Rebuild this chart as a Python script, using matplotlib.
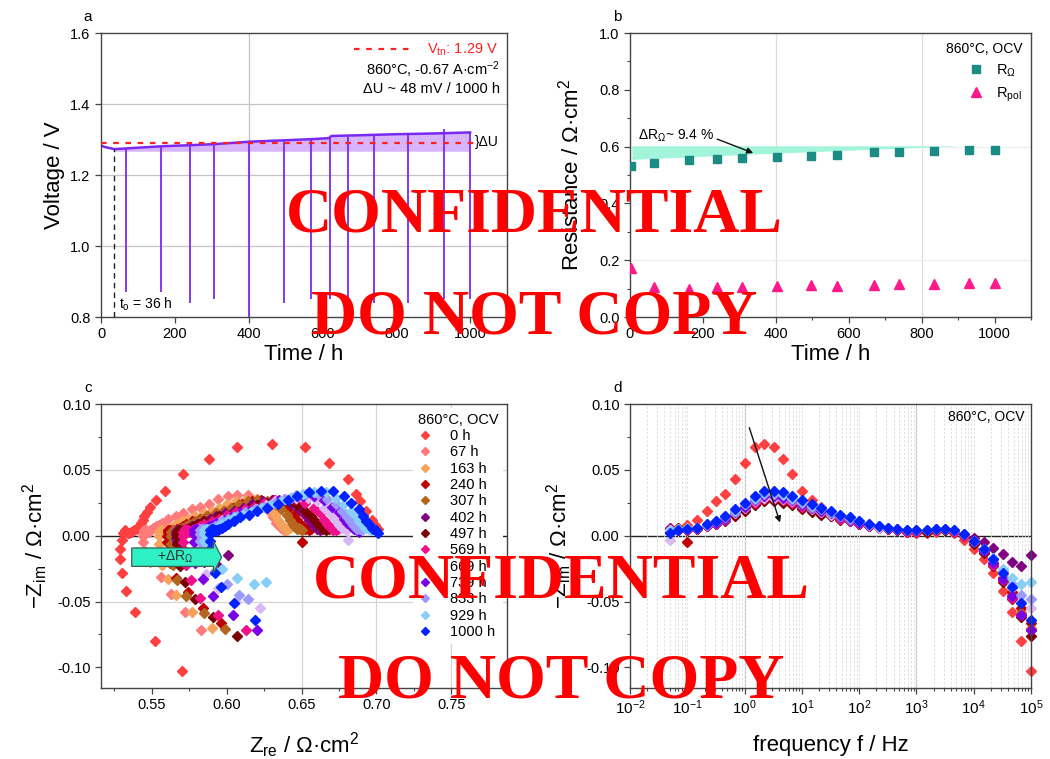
import matplotlib
matplotlib.use('Agg')
import matplotlib.pyplot as plt
from matplotlib.patches import FancyArrow
from matplotlib.ticker import MultipleLocator, LogLocator, NullFormatter

plt.rcParams['font.family'] = ['Liberation Sans', 'DejaVu Sans']
plt.rcParams['mathtext.fontset'] = 'custom'
plt.rcParams['mathtext.rm'] = 'Liberation Sans'
plt.rcParams['mathtext.it'] = 'Liberation Sans:italic'
plt.rcParams['mathtext.bf'] = 'Liberation Sans:bold'
plt.rcParams['mathtext.default'] = 'regular'
plt.rcParams['axes.unicode_minus'] = False
plt.rcParams['xtick.direction'] = 'out'
plt.rcParams['ytick.direction'] = 'out'

# ---- panel a: voltage over time ----
volt_t = [0, 10, 36, 70, 100, 165, 240, 307, 404, 500, 570, 618, 624, 700, 800, 900, 1000]
volt_v = [1.283, 1.279, 1.273, 1.275, 1.277, 1.281, 1.284, 1.287, 1.294, 1.298, 1.301,
          1.304, 1.310, 1.312, 1.315, 1.317, 1.320]
spike_t = [0, 67, 163, 240, 307, 402, 497, 569, 621, 669, 739, 833, 929, 1000]
spike_min = [1.11, 0.87, 0.87, 0.84, 0.85, 0.80, 0.84, 0.85, 0.85, 0.85, 0.84, 0.84, 0.85, 0.85]
spike_top = [1.283, 1.276, 1.281, 1.284, 1.287, 1.294, 1.298, 1.301, 1.306, 1.312, 1.313,
             1.316, 1.330, 1.320]
v_tn = 1.29
t_start = 36

# ---- panel b: resistances ----
eis_t = [2, 67, 163, 240, 307, 402, 497, 569, 669, 739, 833, 929, 1000]
r_ohm = [0.532, 0.544, 0.552, 0.555, 0.559, 0.565, 0.567, 0.572, 0.580, 0.580, 0.584, 0.587, 0.587]
r_pol = [0.174, 0.106, 0.099, 0.106, 0.104, 0.111, 0.113, 0.108, 0.113, 0.116, 0.115, 0.120, 0.120]
band_t = [5, 340, 890]
band_low = [0.555, 0.574, 0.602]
band_high = 0.603

# ---- panels c, d: impedance spectra ----
freq = [0.05, 0.068, 0.1, 0.15, 0.22, 0.32, 0.46, 0.68, 1.0, 1.5, 2.2, 3.2, 4.6, 6.8, 10, 15,
        22, 32, 46, 68, 100, 150, 220, 320, 460, 680, 1000, 1500, 2200, 3200, 4600, 6800,
        10000, 15000, 22000, 32000, 46000, 68000, 100000]

zre_0 = [0.701, 0.700, 0.699, 0.697, 0.693, 0.689, 0.686, 0.681, 0.668, 0.652, 0.630, 0.607,
         0.588, 0.571, 0.559, 0.553, 0.549, 0.547, 0.545, 0.544, 0.543, 0.542, 0.541, 0.540,
         0.538, 0.536, 0.535, 0.534, 0.533, 0.532, 0.531, 0.530, 0.529, 0.529, 0.530, 0.533,
         0.539, 0.552, 0.570]
mzim_0 = [0.005, 0.006, 0.008, 0.012, 0.019, 0.026, 0.032, 0.043, 0.055, 0.067, 0.070, 0.067,
          0.058, 0.047, 0.034, 0.027, 0.022, 0.018, 0.015, 0.012, 0.010, 0.008, 0.006, 0.005,
          0.004, 0.003, 0.002, 0.002, 0.003, 0.004, 0.002, -0.003, -0.010, -0.018, -0.028,
          -0.042, -0.058, -0.080, -0.103]

zre_67 = [0.640, 0.639, 0.638, 0.636, 0.635, 0.633, 0.631, 0.629, 0.625, 0.620, 0.614, 0.607,
          0.601, 0.594, 0.588, 0.582, 0.577, 0.571, 0.566, 0.561, 0.557, 0.555, 0.553, 0.551,
          0.549, 0.548, 0.547, 0.546, 0.546, 0.545, 0.545, 0.544, 0.544, 0.545, 0.549, 0.556,
          0.563, 0.572, 0.583]
mzim_67 = [0.005, 0.004, 0.004, 0.006, 0.008, 0.010, 0.014, 0.018, 0.023, 0.028, 0.031, 0.031,
           0.030, 0.028, 0.024, 0.022, 0.020, 0.017, 0.015, 0.013, 0.010, 0.008, 0.007, 0.006,
           0.004, 0.003, 0.003, 0.003, 0.004, 0.004, 0.003, 0.000, -0.005, -0.012, -0.020,
           -0.031, -0.044, -0.058, -0.072]

zre_163 = [0.642, 0.641, 0.640, 0.639, 0.637, 0.636, 0.634, 0.632, 0.628, 0.624, 0.619, 0.612,
           0.606, 0.600, 0.595, 0.590, 0.585, 0.579, 0.575, 0.571, 0.567, 0.565, 0.563, 0.561,
           0.560, 0.559, 0.558, 0.557, 0.557, 0.556, 0.555, 0.555, 0.555, 0.556, 0.557, 0.561,
           0.566, 0.577, 0.590]
mzim_163 = [0.006, 0.005, 0.004, 0.005, 0.007, 0.009, 0.012, 0.016, 0.020, 0.024, 0.027, 0.027,
            0.026, 0.024, 0.021, 0.019, 0.017, 0.015, 0.013, 0.011, 0.009, 0.007, 0.006, 0.005,
            0.004, 0.003, 0.003, 0.003, 0.004, 0.004, 0.003, 0.000, -0.006, -0.013, -0.022,
            -0.033, -0.045, -0.058, -0.070]

zre_240 = [0.656, 0.655, 0.650, 0.652, 0.651, 0.649, 0.647, 0.645, 0.641, 0.636, 0.630, 0.623,
           0.617, 0.610, 0.604, 0.598, 0.593, 0.587, 0.582, 0.577, 0.573, 0.571, 0.569, 0.567,
           0.565, 0.564, 0.563, 0.562, 0.562, 0.561, 0.561, 0.560, 0.560, 0.561, 0.562, 0.566,
           0.574, 0.584, 0.596]
mzim_240 = [0.005, 0.004, -0.005, 0.005, 0.007, 0.009, 0.012, 0.016, 0.020, 0.024, 0.027, 0.027,
            0.026, 0.024, 0.021, 0.019, 0.017, 0.015, 0.013, 0.011, 0.009, 0.007, 0.006, 0.005,
            0.004, 0.003, 0.003, 0.003, 0.004, 0.004, 0.003, 0.000, -0.005, -0.012, -0.021,
            -0.032, -0.043, -0.055, -0.066]

zre_307 = [0.650, 0.649, 0.648, 0.647, 0.645, 0.644, 0.642, 0.640, 0.636, 0.632, 0.627, 0.620,
           0.614, 0.608, 0.603, 0.598, 0.593, 0.587, 0.583, 0.579, 0.575, 0.573, 0.571, 0.569,
           0.568, 0.567, 0.566, 0.565, 0.565, 0.564, 0.563, 0.563, 0.563, 0.563, 0.564, 0.567,
           0.573, 0.585, 0.599]
mzim_307 = [0.004, 0.005, 0.006, 0.005, 0.007, 0.009, 0.012, 0.016, 0.020, 0.024, 0.026, 0.027,
            0.026, 0.024, 0.021, 0.019, 0.017, 0.015, 0.013, 0.011, 0.009, 0.007, 0.006, 0.005,
            0.004, 0.003, 0.003, 0.003, 0.004, 0.004, 0.003, 0.000, -0.006, -0.013, -0.022,
            -0.034, -0.046, -0.059, -0.071]

zre_402 = [0.664, 0.663, 0.662, 0.660, 0.659, 0.657, 0.655, 0.652, 0.648, 0.643, 0.638, 0.631,
           0.624, 0.617, 0.611, 0.605, 0.599, 0.593, 0.589, 0.584, 0.580, 0.577, 0.575, 0.573,
           0.571, 0.570, 0.569, 0.569, 0.568, 0.567, 0.566, 0.566, 0.566, 0.567, 0.570, 0.576,
           0.585, 0.594, 0.601]
mzim_402 = [0.006, 0.005, 0.004, 0.005, 0.007, 0.009, 0.012, 0.016, 0.020, 0.024, 0.027, 0.027,
            0.026, 0.024, 0.021, 0.019, 0.017, 0.015, 0.013, 0.011, 0.009, 0.007, 0.006, 0.005,
            0.004, 0.003, 0.003, 0.003, 0.004, 0.004, 0.003, 0.001, -0.002, -0.005, -0.009,
            -0.014, -0.020, -0.023, -0.015]

zre_497 = [0.668, 0.667, 0.666, 0.664, 0.662, 0.661, 0.659, 0.656, 0.652, 0.647, 0.641, 0.634,
           0.627, 0.620, 0.614, 0.607, 0.601, 0.595, 0.590, 0.585, 0.581, 0.578, 0.576, 0.574,
           0.573, 0.572, 0.571, 0.570, 0.569, 0.568, 0.567, 0.567, 0.567, 0.567, 0.569, 0.572,
           0.579, 0.591, 0.607]
mzim_497 = [0.005, 0.006, 0.004, 0.005, 0.007, 0.009, 0.011, 0.015, 0.019, 0.023, 0.026, 0.026,
            0.025, 0.023, 0.020, 0.018, 0.016, 0.015, 0.012, 0.011, 0.009, 0.007, 0.006, 0.005,
            0.004, 0.003, 0.003, 0.003, 0.004, 0.004, 0.003, 0.000, -0.006, -0.013, -0.023,
            -0.035, -0.048, -0.062, -0.076]

zre_569 = [0.674, 0.673, 0.671, 0.670, 0.668, 0.667, 0.665, 0.662, 0.658, 0.652, 0.646, 0.639,
           0.632, 0.625, 0.618, 0.612, 0.606, 0.600, 0.595, 0.590, 0.585, 0.582, 0.580, 0.578,
           0.577, 0.576, 0.575, 0.574, 0.573, 0.572, 0.571, 0.571, 0.571, 0.572, 0.573, 0.576,
           0.582, 0.594, 0.613]
mzim_569 = [0.005, 0.004, 0.004, 0.005, 0.007, 0.009, 0.012, 0.017, 0.021, 0.025, 0.028, 0.028,
            0.027, 0.025, 0.022, 0.020, 0.018, 0.016, 0.013, 0.011, 0.009, 0.007, 0.006, 0.005,
            0.004, 0.003, 0.003, 0.004, 0.004, 0.005, 0.003, 0.000, -0.005, -0.012, -0.022,
            -0.034, -0.047, -0.060, -0.072]

zre_669 = [0.681, 0.680, 0.679, 0.677, 0.675, 0.674, 0.672, 0.669, 0.665, 0.660, 0.654, 0.646,
           0.639, 0.632, 0.626, 0.620, 0.614, 0.608, 0.603, 0.597, 0.593, 0.590, 0.588, 0.586,
           0.585, 0.584, 0.583, 0.582, 0.581, 0.580, 0.579, 0.579, 0.579, 0.580, 0.582, 0.586,
           0.594, 0.606, 0.622]
mzim_669 = [-0.003, 0.004, 0.005, 0.006, 0.008, 0.010, 0.013, 0.017, 0.021, 0.026, 0.029, 0.029,
            0.028, 0.026, 0.023, 0.020, 0.018, 0.016, 0.014, 0.012, 0.010, 0.008, 0.006, 0.006,
            0.005, 0.004, 0.004, 0.004, 0.005, 0.005, 0.004, 0.001, -0.004, -0.010, -0.019,
            -0.029, -0.040, -0.050, -0.055]

zre_739 = [0.688, 0.687, 0.685, 0.684, 0.682, 0.680, 0.678, 0.675, 0.670, 0.665, 0.658, 0.651,
           0.643, 0.635, 0.629, 0.622, 0.615, 0.609, 0.603, 0.598, 0.593, 0.590, 0.588, 0.586,
           0.584, 0.583, 0.582, 0.581, 0.580, 0.579, 0.578, 0.578, 0.578, 0.578, 0.579, 0.584,
           0.591, 0.604, 0.620]
mzim_739 = [0.003, 0.004, 0.005, 0.006, 0.008, 0.010, 0.013, 0.018, 0.022, 0.027, 0.030, 0.030,
            0.029, 0.027, 0.023, 0.021, 0.019, 0.017, 0.014, 0.012, 0.010, 0.008, 0.007, 0.006,
            0.005, 0.004, 0.004, 0.004, 0.005, 0.005, 0.004, 0.001, -0.005, -0.012, -0.021,
            -0.033, -0.046, -0.060, -0.072]

zre_833 = [0.690, 0.689, 0.687, 0.686, 0.684, 0.682, 0.680, 0.677, 0.673, 0.667, 0.661, 0.653,
           0.646, 0.638, 0.632, 0.625, 0.619, 0.612, 0.607, 0.601, 0.597, 0.594, 0.592, 0.590,
           0.588, 0.587, 0.586, 0.585, 0.584, 0.583, 0.582, 0.582, 0.582, 0.583, 0.586, 0.592,
           0.600, 0.608, 0.614]
mzim_833 = [0.004, 0.005, 0.005, 0.006, 0.008, 0.011, 0.014, 0.019, 0.024, 0.028, 0.032, 0.032,
            0.031, 0.028, 0.025, 0.022, 0.020, 0.018, 0.015, 0.013, 0.011, 0.008, 0.007, 0.006,
            0.005, 0.004, 0.004, 0.004, 0.005, 0.005, 0.004, 0.001, -0.004, -0.010, -0.018,
            -0.027, -0.037, -0.045, -0.048]

zre_929 = [0.696, 0.695, 0.693, 0.692, 0.690, 0.688, 0.686, 0.683, 0.678, 0.673, 0.666, 0.658,
           0.651, 0.643, 0.636, 0.629, 0.623, 0.616, 0.611, 0.605, 0.601, 0.597, 0.595, 0.593,
           0.591, 0.590, 0.589, 0.588, 0.587, 0.586, 0.585, 0.585, 0.585, 0.586, 0.590, 0.597,
           0.607, 0.618, 0.626]
mzim_929 = [0.004, 0.005, 0.006, 0.006, 0.009, 0.011, 0.015, 0.019, 0.024, 0.029, 0.033, 0.033,
            0.032, 0.029, 0.026, 0.023, 0.021, 0.018, 0.016, 0.014, 0.011, 0.009, 0.007, 0.006,
            0.005, 0.004, 0.004, 0.004, 0.005, 0.005, 0.004, 0.001, -0.004, -0.010, -0.017,
            -0.025, -0.032, -0.037, -0.035]

zre_1000 = [0.701, 0.700, 0.698, 0.697, 0.695, 0.693, 0.691, 0.688, 0.683, 0.678, 0.671, 0.663,
            0.655, 0.647, 0.641, 0.634, 0.627, 0.620, 0.615, 0.609, 0.605, 0.601, 0.599, 0.597,
            0.595, 0.594, 0.593, 0.592, 0.591, 0.590, 0.589, 0.589, 0.589, 0.589, 0.590, 0.592,
            0.596, 0.605, 0.619]
mzim_1000 = [0.002, 0.004, 0.005, 0.006, 0.009, 0.011, 0.015, 0.020, 0.025, 0.030, 0.034, 0.034,
             0.033, 0.030, 0.027, 0.024, 0.021, 0.019, 0.016, 0.014, 0.011, 0.009, 0.007, 0.006,
             0.005, 0.004, 0.004, 0.004, 0.005, 0.005, 0.004, 0.001, -0.004, -0.010, -0.018,
             -0.028, -0.039, -0.051, -0.064]

spec_labels = ['0 h', '67 h', '163 h', '240 h', '307 h', '402 h', '497 h', '569 h', '669 h',
               '739 h', '833 h', '929 h', '1000 h']
spec_zre = [zre_0, zre_67, zre_163, zre_240, zre_307, zre_402, zre_497, zre_569, zre_669,
            zre_739, zre_833, zre_929, zre_1000]
spec_mzim = [mzim_0, mzim_67, mzim_163, mzim_240, mzim_307, mzim_402, mzim_497, mzim_569,
             mzim_669, mzim_739, mzim_833, mzim_929, mzim_1000]
spec_colors = ['#ff4040', '#ff7b7b', '#f5a25d', '#c00000', '#b5651d', '#800080', '#7b0000',
               '#f0108a', '#d9b8f5', '#7a00e6', '#9b9bff', '#87cefa', '#0022ff']


def style_axes(ax):
    for s in ax.spines.values():
        s.set_color('#444444')
        s.set_linewidth(1.0)
    ax.tick_params(labelsize=10.5, length=4, width=0.9, color='#444444')
    ax.tick_params(which='minor', length=2.5, width=0.8, color='#444444')


fig = plt.figure(figsize=(10.5, 7.59), dpi=100)
ax_a = fig.add_axes([0.0962, 0.5823, 0.3867, 0.3742])
ax_b = fig.add_axes([0.6, 0.5823, 0.3819, 0.3742])
ax_c = fig.add_axes([0.0962, 0.0935, 0.3867, 0.3742])
ax_d = fig.add_axes([0.6, 0.0935, 0.3819, 0.3742])

# ---------------- a ----------------
ax = ax_a
style_axes(ax)
for y in [1.0, 1.2, 1.4]:
    ax.axhline(y, color='#c4c4c4', lw=0.9, zorder=0)
ax.axvline(400, color='#c4c4c4', lw=0.9, zorder=0)
ax.fill_between(volt_t[2:], 1.267, volt_v[2:], color='#d8b4fc', lw=0, zorder=1)
ax.vlines(spike_t, spike_min, spike_top, color='#7a2af0', lw=1.3, zorder=2)
ax.plot(volt_t, volt_v, color='#7a2af0', lw=1.8, zorder=2.5)
vtn_line, = ax.plot([0, 1010], [v_tn, v_tn], color='#ff2020', lw=1.6, ls=(0, (2.5, 3)), zorder=3)
ax.vlines(t_start, 0.8, 1.273, color='#222222', lw=1.0, ls=(0, (4, 3)), zorder=3)
ax.text(48, 0.835, 't$_o$ = 36 h', fontsize=10, va='center')
ax.text(1012, 1.293, '}ΔU', fontsize=10, va='center', clip_on=False)
leg = ax.legend([vtn_line], ['V$_{tn}$: 1.29 V'], loc='upper right', frameon=False,
                fontsize=10.5, handlelength=4.2, borderaxespad=0.2)
leg.get_texts()[0].set_color('#ff2020')
ax.text(0.983, 0.870, '860°C, -0.67 A·cm$^{-2}$', transform=ax.transAxes, ha='right',
        va='center', fontsize=10.5)
ax.text(0.983, 0.803, 'ΔU ~ 48 mV / 1000 h', transform=ax.transAxes, ha='right',
        va='center', fontsize=10.5)
ax.set_xlim(0, 1100)
ax.set_ylim(0.8, 1.6)
ax.set_xticks([0, 200, 400, 600, 800, 1000])
ax.set_yticks([0.8, 1.0, 1.2, 1.4, 1.6])
ax.set_xlabel('Time / h', fontsize=16, labelpad=2)
ax.set_ylabel('Voltage / V', fontsize=16, labelpad=4)
ax.text(-0.032, 1.058, 'a', transform=ax.transAxes, ha='center', va='center', fontsize=11)

# ---------------- b ----------------
ax = ax_b
style_axes(ax)
for x in [400, 800]:
    ax.axvline(x, color='#dddddd', lw=0.9, zorder=0)
for y in [0.2, 0.6]:
    ax.axhline(y, color='#eeeeee', lw=0.9, zorder=0)
ax.fill_between(band_t, band_low, band_high, color='#a2f5da', lw=0, zorder=1)
ax.plot(eis_t, r_ohm, 's', color='#1a8c84', ms=6, ls='none', label='R$_Ω$', zorder=3)
ax.plot(eis_t, r_pol, '^', color='#ff1a8c', ms=7, ls='none', label='R$_{pol}$', zorder=3)
ax.annotate('', xy=(345, 0.574), xytext=(232, 0.630),
            arrowprops=dict(arrowstyle='-|>', color='#111111', lw=1.0, mutation_scale=9))
ax.text(22, 0.639, 'ΔR$_Ω$~ 9.4 %', fontsize=10, va='center')
ax.legend(loc='upper right', frameon=False, title='860°C, OCV', title_fontsize=10,
          fontsize=10.5, handlelength=1.0, handletextpad=0.9, labelspacing=0.45,
          borderaxespad=0.2, alignment='right')
ax.set_xlim(0, 1100)
ax.set_ylim(0, 1.0)
ax.set_xticks([0, 200, 400, 600, 800, 1000])
ax.set_yticks([0.0, 0.2, 0.4, 0.6, 0.8, 1.0])
ax.xaxis.set_minor_locator(MultipleLocator(100))
ax.yaxis.set_minor_locator(MultipleLocator(0.1))
ax.set_xlabel('Time / h', fontsize=16, labelpad=2)
ax.set_ylabel('Resistance / Ω·cm$^2$', fontsize=16, labelpad=11)
ax.text(-0.032, 1.058, 'b', transform=ax.transAxes, ha='center', va='center', fontsize=11)

# ---------------- c ----------------
ax = ax_c
style_axes(ax)
for x in [0.65, 0.70, 0.75]:
    ax.axvline(x, color='#d4d4d4', lw=0.9, zorder=0)
for y in [0.05, -0.05]:
    ax.axhline(y, color='#d4d4d4', lw=0.9, zorder=0)
ax.axhline(0, color='#222222', lw=1.0, zorder=0.5)
for zr, mz, lab, col in zip(spec_zre, spec_mzim, spec_labels, spec_colors):
    ax.plot(zr, mz, 'D', color=col, ms=4.8, ls='none', label=lab, zorder=2)
arrow = FancyArrow(0.5367, -0.0163, 0.060, 0, width=0.014, head_width=0.024,
                   head_length=0.0055, length_includes_head=True, facecolor='#2ef0c4',
                   edgecolor='#3a5f55', lw=0.9, zorder=4)
ax.add_patch(arrow)
ax.text(0.5655, -0.0163, '+ΔR$_Ω$', fontsize=10, ha='center', va='center', color='#333333',
        zorder=5)
leg = ax.legend(loc='upper right', bbox_to_anchor=(1.0, 1.0), title='860°C, OCV',
                title_fontsize=10.5, fontsize=10.5, handlelength=1.0, handletextpad=1.2,
                labelspacing=0.16, borderaxespad=0.25, borderpad=0.35, frameon=True,
                facecolor='white', edgecolor='none', framealpha=1.0, alignment='left',
                markerscale=0.9)
leg.set_zorder(3)
ax.set_xlim(0.5162, 0.7871)
ax.set_ylim(-0.1157, 0.10)
ax.set_xticks([0.55, 0.60, 0.65, 0.70, 0.75])
ax.set_yticks([-0.10, -0.05, 0.00, 0.05, 0.10])
ax.xaxis.set_minor_locator(MultipleLocator(0.025))
ax.yaxis.set_minor_locator(MultipleLocator(0.025))
ax.set_xlabel('Z$_{re}$ / Ω·cm$^2$', fontsize=16, labelpad=13)
ax.set_ylabel('−Z$_{im}$ / Ω·cm$^2$', fontsize=16, labelpad=5)
ax.text(-0.032, 1.058, 'c', transform=ax.transAxes, ha='center', va='center', fontsize=11)

# ---------------- d ----------------
ax = ax_d
style_axes(ax)
ax.set_xscale('log')
ax.grid(True, which='both', axis='x', color='#dcdcdc', lw=0.6, ls=(0, (3, 2)), zorder=0)
for x in [1, 1000]:
    ax.axvline(x, color='#c2c2c2', lw=0.9, zorder=0)
ax.axhline(0, color='#222222', lw=1.0, zorder=0.5)
for zr, mz, lab, col in zip(spec_zre, spec_mzim, spec_labels, spec_colors):
    ax.plot(freq, mz, 'D', color=col, ms=4.8, ls='none', zorder=2, clip_on=False)
ax.annotate('', xy=(4.3, 0.008), xytext=(1.17, 0.084),
            arrowprops=dict(arrowstyle='-|>', color='#111111', lw=1.0, mutation_scale=9),
            zorder=5)
ax.text(0.985, 0.955, '860°C, OCV', transform=ax.transAxes, ha='right', va='center',
        fontsize=10)
ax.set_xlim(1e-2, 1e5)
ax.set_ylim(-0.1157, 0.10)
ax.xaxis.set_major_locator(LogLocator(base=10, numticks=10))
ax.xaxis.set_minor_locator(LogLocator(base=10, subs=[2, 3, 4, 5, 6, 7, 8, 9], numticks=20))
ax.xaxis.set_minor_formatter(NullFormatter())
ax.tick_params(axis='x', labelsize=11)
ax.set_yticks([-0.10, -0.05, 0.00, 0.05, 0.10])
ax.yaxis.set_minor_locator(MultipleLocator(0.025))
ax.set_xlabel('frequency f / Hz', fontsize=16, labelpad=13)
ax.set_ylabel('−Z$_{im}$ / Ω·cm$^2$', fontsize=16, labelpad=9)
ax.text(-0.032, 1.058, 'd', transform=ax.transAxes, ha='center', va='center', fontsize=11)

# ---------------- watermark ----------------
wm = dict(ha='center', va='baseline', fontsize=46, fontfamily='Liberation Serif',
          fontweight='bold', color='#ff0000', zorder=10)
fig.text(534 / 1050, 1 - 232 / 759, 'CONFIDENTIAL', **wm)
fig.text(534 / 1050, 1 - 333 / 759, 'DO NOT COPY', **wm)
fig.text(561 / 1050, 1 - 597 / 759, 'CONFIDENTIAL', **wm)
fig.text(561 / 1050, 1 - 697 / 759, 'DO NOT COPY', **wm)

fig.savefig('out.png', dpi=100)
